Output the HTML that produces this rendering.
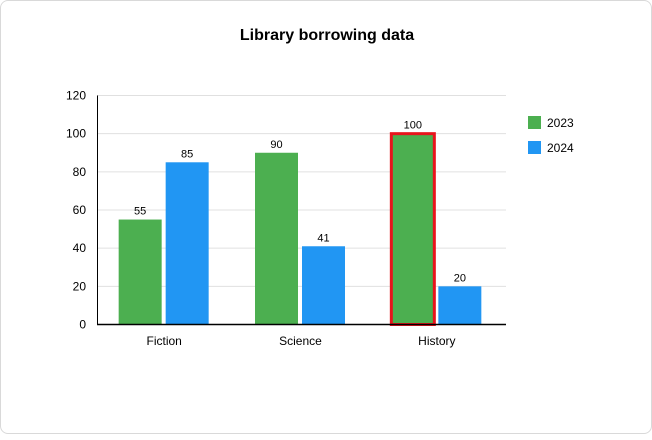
<!DOCTYPE html>
<html><head><meta charset="utf-8"><style>
html,body{margin:0;padding:0;background:#fff;}
#card{position:absolute;left:0;top:0;width:650px;height:432px;border:1px solid #d9d9d9;border-radius:8px;background:#fff;}
text{font-family:"Liberation Sans",Arial,sans-serif;}
</style></head><body>
<div id="card">
<svg id="chart" width="652" height="434"></svg>
</div>
<script>
const categories = ["Fiction","Science","History"];
const series2023 = [55,90,100];
const series2024 = [85,41,20];
const yTicks = [0,20,40,60,80,100,120];
const seriesNames = ["2023","2024"];
const colors = ["#4caf50","#2196f3"];

const NS="http://www.w3.org/2000/svg";
const svg=document.getElementById('chart');
const x0=96,x1=505,yTop=94.5,yBot=323.5,yMax=120;
const y=v=>yBot-(v/yMax)*(yBot-yTop);
const band=(x1-x0)/categories.length;
const bx=i=>x0+band*i;
function el(tag,attrs,txt){const e=document.createElementNS(NS,tag);for(const k in attrs)e.setAttribute(k,attrs[k]);if(txt!==undefined)e.textContent=txt;svg.appendChild(e);return e;}

let t=el('text',{x:326,y:39,'text-anchor':'middle','font-size':16,'font-weight':'bold',fill:'#000'},'Library borrowing data');



yTicks.forEach(v=>{
  const g=el('line',{x1:x0,x2:x1,y1:y(v),y2:y(v),stroke:'#e0e0e0','stroke-width':1});
  
  
  const l=el('text',{x:85,y:y(v)+4,'text-anchor':'end','font-size':12,fill:'#000'},v);
  
  
});
let ax=el('line',{x1:x0+0.5,x2:x0+0.5,y1:yTop,y2:yBot,stroke:'#000','stroke-width':1});



const bw=43,gap=4;
[series2023,series2024].forEach((s,si)=>{
  s.forEach((v,i)=>{
    const cx=bx(i)+band/2-1.5;
    const left=si===0?cx-gap/2-bw:cx+gap/2;
    const r=el('rect',{x:left,y:y(v),width:bw,height:yBot-y(v),fill:colors[si]});
    
    
    if(si===0&&v===Math.max(...series2023)){
      r.setAttribute('stroke','#e8141c');r.setAttribute('stroke-width',3);
    }
    const lb=el('text',{x:left+bw/2,y:y(v)-5,'text-anchor':'middle','font-size':11,fill:'#000'},v);
    
    
  });
});
let xa=el('line',{x1:x0,x2:x1,y1:yBot,y2:yBot,stroke:'#000','stroke-width':1.5});


categories.forEach((c,i)=>{
  const l=el('text',{x:bx(i)+band/2-1,y:344,'text-anchor':'middle','font-size':12,fill:'#000'},c);
  
  
});
seriesNames.forEach((n,i)=>{
  const r=el('rect',{x:527,y:115+i*25,width:13,height:13,fill:colors[i]});
  
  
  const l=el('text',{x:546,y:126+i*25,'font-size':12,fill:'#000'},n);
  
  
});
</script>
</body></html>
